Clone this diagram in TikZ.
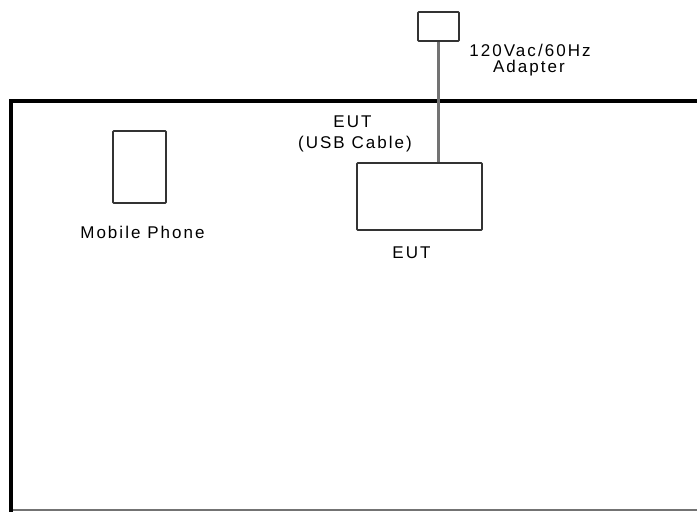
\documentclass[tikz,border=0pt]{standalone}
\usepackage{fontspec}
\setmainfont{Liberation Sans}[LetterSpace=12]
\begin{document}
\begin{tikzpicture}[x=1pt,y=-1pt,
  box/.style={draw=black!80,line width=1.6pt,rounded corners=0.8pt,inner sep=0pt,fill=white},
  lbl/.style={anchor=base,inner sep=0pt,font=\fontsize{17}{18}\selectfont,text=black},
  cable/.style={draw=black!55,line width=2.6pt}]
\useasboundingbox (0,0) rectangle (697,512);
% table outline
\coordinate (tr) at (697,101);
\coordinate (tl) at (11,101);
\coordinate (bl) at (11,512);
\coordinate (bl2) at (11,510);
\coordinate (br) at (697,510);
\draw[black!55,line width=1.5pt] (bl2) -- (br);
\draw[black,line width=4pt] (tr) -- (tl) -- (bl);
% devices
\node[box,minimum width=41pt,minimum height=29pt] (adapter) at (438.5,26.5) {};
\node[box,minimum width=125pt,minimum height=67pt] (eut) at (419.5,196.5) {};
\node[box,minimum width=53pt,minimum height=72pt] (phone) at (139.5,167) {};
\draw[cable] (adapter.south) -- (adapter.south |- eut.north);
% labels
\node[lbl] (ad1) at (530,56) {120Vac/60Hz};
\node[lbl] (ad2) at (529,72) {Adapter};
\node[lbl] (cb1) at (352.5,127) {EUT};
\node[lbl] (cb2) at (355,148) {(USB Cable)};
\node[lbl] (ph) at (142.5,238) {Mobile Phone};
\node[lbl] (eutl) at (411.5,258) {EUT};
\end{tikzpicture}
\end{document}
